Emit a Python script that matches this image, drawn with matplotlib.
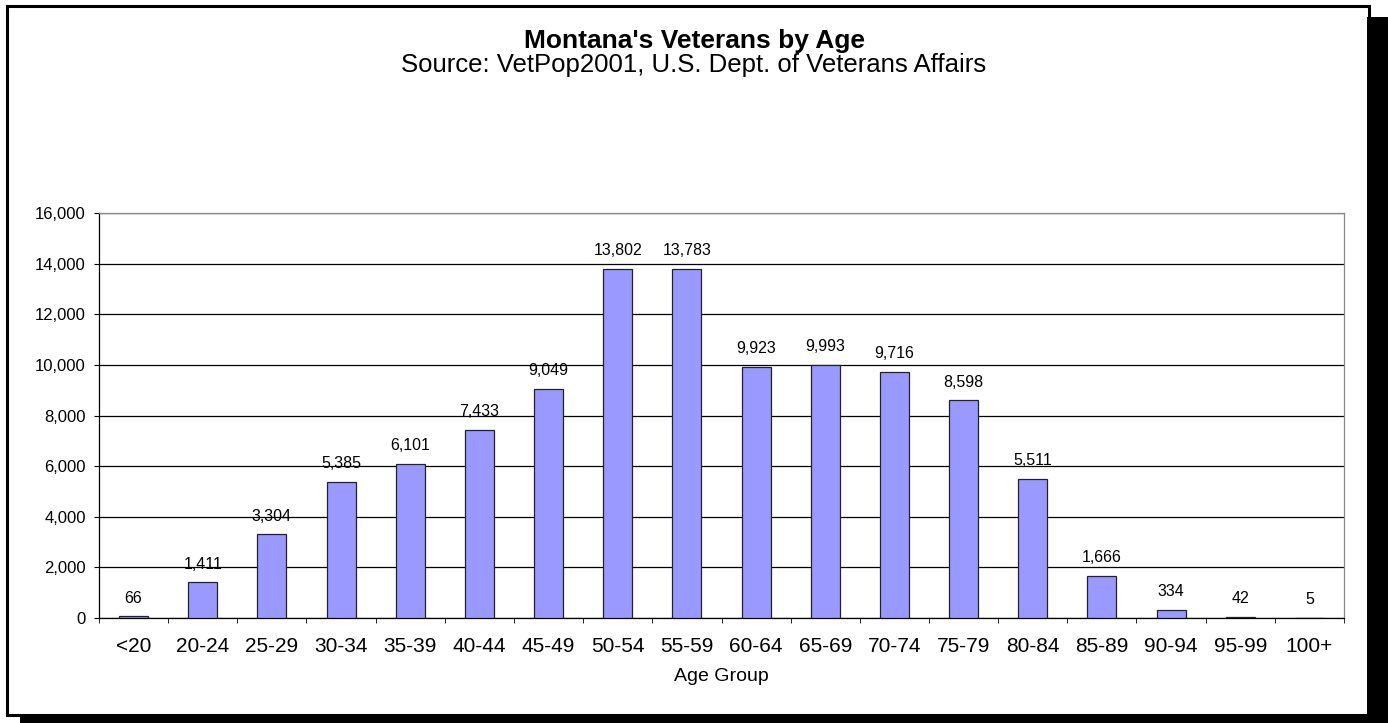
import matplotlib.pyplot as plt
from matplotlib.patches import Rectangle
from matplotlib.ticker import FuncFormatter, FixedLocator

# Montana veterans by age group (VetPop2001)
age_groups = ['<20', '20-24', '25-29', '30-34', '35-39', '40-44', '45-49',
              '50-54', '55-59', '60-64', '65-69', '70-74', '75-79', '80-84',
              '85-89', '90-94', '95-99', '100+']
veterans = [66, 1411, 3304, 5385, 6101, 7433, 9049, 13802, 13783,
            9923, 9993, 9716, 8598, 5511, 1666, 334, 42, 5]

plt.rcParams['font.family'] = ['Liberation Sans', 'DejaVu Sans']

W, H = 1388, 723
fig = plt.figure(figsize=(W / 100, H / 100), dpi=100)


def px(x0, y0, x1, y1):
    # figure-fraction box from pixel corners (origin top-left)
    return [x0 / W, 1 - y1 / H, (x1 - x0) / W, (y1 - y0) / H]


# shadow and frame
for box in [(1367, 17, 1388, 723), (20, 716, 1388, 723)]:
    l, b, w, h = px(*box)
    fig.patches.append(Rectangle((l, b), w, h, transform=fig.transFigure,
                                 facecolor='black', edgecolor='none'))
l, b, w, h = px(6.5, 5.5, 1368.5, 714.5)
fig.patches.append(Rectangle((l, b), w, h, transform=fig.transFigure,
                             facecolor='none', edgecolor='black', linewidth=2.2))

ax = fig.add_axes(px(99, 213, 1344, 618))
x = range(len(age_groups))
ax.bar(x, veterans, width=0.42, color='#9999FF', edgecolor='#222222',
       linewidth=0.9, zorder=3)

for xi, v in zip(x, veterans):
    ax.text(xi, v + 420, f'{v:,}', ha='center', va='bottom', fontsize=11.5)

ax.set_xlim(-0.5, len(age_groups) - 0.5)
ax.set_ylim(0, 16000)
ax.set_yticks(range(0, 16001, 2000))
ax.yaxis.set_major_formatter(FuncFormatter(lambda v, p: f'{int(v):,}'))
ax.grid(axis='y', color='black', linewidth=0.9, zorder=0)

ax.set_xticks(list(x))
ax.set_xticklabels(age_groups, fontsize=15)
ax.xaxis.set_minor_locator(FixedLocator([i - 0.5 for i in range(len(age_groups) + 1)]))
ax.tick_params(axis='x', which='major', length=0, pad=14)
ax.tick_params(axis='x', which='minor', length=3.6, color='black')
ax.tick_params(axis='y', length=3.6, labelsize=12, pad=6)

for s in ['top', 'right']:
    ax.spines[s].set_color('#888888')
    ax.spines[s].set_linewidth(0.9)
for s in ['left', 'bottom']:
    ax.spines[s].set_color('black')
    ax.spines[s].set_linewidth(0.9)

ax.set_xlabel('Age Group', fontsize=14, labelpad=8)

fig.text(0.5, 1 - 41 / H, "Montana's Veterans by Age", ha='center', va='center',
         fontsize=19, fontweight='bold')
fig.text(0.5, 1 - 65 / H, 'Source: VetPop2001, U.S. Dept. of Veterans Affairs',
         ha='center', va='center', fontsize=18.5)

fig.savefig('out.png', dpi=100)
